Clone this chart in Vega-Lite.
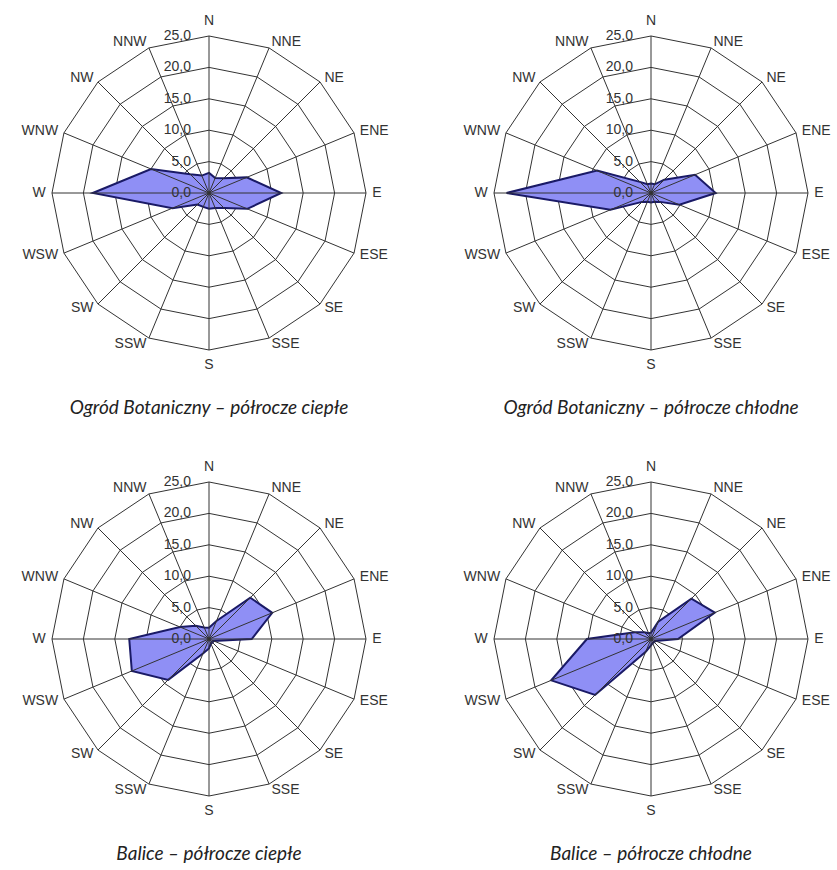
{
  "$schema": "https://vega.github.io/schema/vega-lite/v6.json",
  "padding": {"left": 21, "top": 13, "right": 0, "bottom": 0},
  "background": "white",
  "data": {"values": [
    {"panel": "Ogród Botaniczny – półrocze ciepłe", "dir": "N", "value": 3.2},
    {"panel": "Ogród Botaniczny – półrocze ciepłe", "dir": "NNE", "value": 2.6},
    {"panel": "Ogród Botaniczny – półrocze ciepłe", "dir": "NE", "value": 3.3},
    {"panel": "Ogród Botaniczny – półrocze ciepłe", "dir": "ENE", "value": 6.5},
    {"panel": "Ogród Botaniczny – półrocze ciepłe", "dir": "E", "value": 11.5},
    {"panel": "Ogród Botaniczny – półrocze ciepłe", "dir": "ESE", "value": 6.6},
    {"panel": "Ogród Botaniczny – półrocze ciepłe", "dir": "SE", "value": 3.4},
    {"panel": "Ogród Botaniczny – półrocze ciepłe", "dir": "SSE", "value": 2.6},
    {"panel": "Ogród Botaniczny – półrocze ciepłe", "dir": "S", "value": 2.5},
    {"panel": "Ogród Botaniczny – półrocze ciepłe", "dir": "SSW", "value": 2.4},
    {"panel": "Ogród Botaniczny – półrocze ciepłe", "dir": "SW", "value": 2.6},
    {"panel": "Ogród Botaniczny – półrocze ciepłe", "dir": "WSW", "value": 6.3},
    {"panel": "Ogród Botaniczny – półrocze ciepłe", "dir": "W", "value": 18.5},
    {"panel": "Ogród Botaniczny – półrocze ciepłe", "dir": "WNW", "value": 10.0},
    {"panel": "Ogród Botaniczny – półrocze ciepłe", "dir": "NW", "value": 4.2},
    {"panel": "Ogród Botaniczny – półrocze ciepłe", "dir": "NNW", "value": 3.0},
    {"panel": "Ogród Botaniczny – półrocze chłodne", "dir": "N", "value": 1.5},
    {"panel": "Ogród Botaniczny – półrocze chłodne", "dir": "NNE", "value": 1.5},
    {"panel": "Ogród Botaniczny – półrocze chłodne", "dir": "NE", "value": 3.0},
    {"panel": "Ogród Botaniczny – półrocze chłodne", "dir": "ENE", "value": 7.6},
    {"panel": "Ogród Botaniczny – półrocze chłodne", "dir": "E", "value": 10.3},
    {"panel": "Ogród Botaniczny – półrocze chłodne", "dir": "ESE", "value": 4.9},
    {"panel": "Ogród Botaniczny – półrocze chłodne", "dir": "SE", "value": 2.0},
    {"panel": "Ogród Botaniczny – półrocze chłodne", "dir": "SSE", "value": 1.5},
    {"panel": "Ogród Botaniczny – półrocze chłodne", "dir": "S", "value": 1.5},
    {"panel": "Ogród Botaniczny – półrocze chłodne", "dir": "SSW", "value": 1.5},
    {"panel": "Ogród Botaniczny – półrocze chłodne", "dir": "SW", "value": 2.0},
    {"panel": "Ogród Botaniczny – półrocze chłodne", "dir": "WSW", "value": 7.0},
    {"panel": "Ogród Botaniczny – półrocze chłodne", "dir": "W", "value": 23.0},
    {"panel": "Ogród Botaniczny – półrocze chłodne", "dir": "WNW", "value": 9.3},
    {"panel": "Ogród Botaniczny – półrocze chłodne", "dir": "NW", "value": 2.5},
    {"panel": "Ogród Botaniczny – półrocze chłodne", "dir": "NNW", "value": 1.5},
    {"panel": "Balice – półrocze ciepłe", "dir": "N", "value": 1.8},
    {"panel": "Balice – półrocze ciepłe", "dir": "NNE", "value": 3.1},
    {"panel": "Balice – półrocze ciepłe", "dir": "NE", "value": 9.3},
    {"panel": "Balice – półrocze ciepłe", "dir": "ENE", "value": 10.9},
    {"panel": "Balice – półrocze ciepłe", "dir": "E", "value": 6.8},
    {"panel": "Balice – półrocze ciepłe", "dir": "ESE", "value": 0.8},
    {"panel": "Balice – półrocze ciepłe", "dir": "SE", "value": 0.8},
    {"panel": "Balice – półrocze ciepłe", "dir": "SSE", "value": 0.8},
    {"panel": "Balice – półrocze ciepłe", "dir": "S", "value": 1.5},
    {"panel": "Balice – półrocze ciepłe", "dir": "SSW", "value": 2.5},
    {"panel": "Balice – półrocze ciepłe", "dir": "SW", "value": 9.2},
    {"panel": "Balice – półrocze ciepłe", "dir": "WSW", "value": 13.3},
    {"panel": "Balice – półrocze ciepłe", "dir": "W", "value": 12.7},
    {"panel": "Balice – półrocze ciepłe", "dir": "WNW", "value": 5.0},
    {"panel": "Balice – półrocze ciepłe", "dir": "NW", "value": 3.0},
    {"panel": "Balice – półrocze ciepłe", "dir": "NNW", "value": 2.0},
    {"panel": "Balice – półrocze chłodne", "dir": "N", "value": 1.0},
    {"panel": "Balice – półrocze chłodne", "dir": "NNE", "value": 3.0},
    {"panel": "Balice – półrocze chłodne", "dir": "NE", "value": 9.1},
    {"panel": "Balice – półrocze chłodne", "dir": "ENE", "value": 11.0},
    {"panel": "Balice – półrocze chłodne", "dir": "E", "value": 4.3},
    {"panel": "Balice – półrocze chłodne", "dir": "ESE", "value": 0.8},
    {"panel": "Balice – półrocze chłodne", "dir": "SE", "value": 0.7},
    {"panel": "Balice – półrocze chłodne", "dir": "SSE", "value": 0.7},
    {"panel": "Balice – półrocze chłodne", "dir": "S", "value": 1.0},
    {"panel": "Balice – półrocze chłodne", "dir": "SSW", "value": 2.2},
    {"panel": "Balice – półrocze chłodne", "dir": "SW", "value": 12.6},
    {"panel": "Balice – półrocze chłodne", "dir": "WSW", "value": 17.2},
    {"panel": "Balice – półrocze chłodne", "dir": "W", "value": 10.2},
    {"panel": "Balice – półrocze chłodne", "dir": "WNW", "value": 2.8},
    {"panel": "Balice – półrocze chłodne", "dir": "NW", "value": 1.5},
    {"panel": "Balice – półrocze chłodne", "dir": "NNW", "value": 1.0}
  ]},
  "transform": [
    {"calculate": "indexof(['N','NNE','NE','ENE','E','ESE','SE','SSE','S','SSW','SW','WSW','W','WNW','NW','NNW'], datum.dir)", "as": "idx"},
    {"calculate": "datum.idx * PI / 8", "as": "theta"},
    {"calculate": "datum.value * sin(datum.theta)", "as": "px"},
    {"calculate": "datum.value * cos(datum.theta)", "as": "py"}
  ],
  "facet": {
    "field": "panel",
    "type": "nominal",
    "title": null,
    "sort": ["Ogród Botaniczny – półrocze ciepłe", "Ogród Botaniczny – półrocze chłodne", "Balice – półrocze ciepłe", "Balice – półrocze chłodne"],
    "header": {"labelOrient": "bottom", "labelPadding": 26, "labelFont": "Lato", "labelFontStyle": "italic", "labelFontSize": 19, "labelColor": "#222222"}
  },
  "columns": 2,
  "spacing": {"row": 41, "column": 71},
  "spec": {
    "width": 366,
    "height": 360,
    "layer": [
      {
        "transform": [
          {"calculate": "5", "as": "r05"},
          {"calculate": "10", "as": "r10"},
          {"calculate": "15", "as": "r15"},
          {"calculate": "20", "as": "r20"},
          {"calculate": "25", "as": "r25"},
          {"fold": ["r05", "r10", "r15", "r20", "r25"], "as": ["rk", "ring"]},
          {"calculate": "datum.ring * sin(datum.theta)", "as": "gx"},
          {"calculate": "datum.ring * cos(datum.theta)", "as": "gy"}
        ],
        "mark": {"type": "line", "interpolate": "linear-closed", "stroke": "#333333", "strokeWidth": 1},
        "encoding": {
          "x": {"field": "gx", "type": "quantitative", "scale": {"domain": [-29.14, 29.14], "nice": false, "zero": false}, "axis": null},
          "y": {"field": "gy", "type": "quantitative", "scale": {"domain": [-28.66, 28.66], "nice": false, "zero": false}, "axis": null},
          "detail": {"field": "rk"},
          "order": {"field": "idx", "type": "quantitative"}
        }
      },
      {
        "mark": {"type": "line", "interpolate": "linear-closed", "fill": "#8F8FF5", "stroke": "#1a1a66", "strokeWidth": 2},
        "encoding": {
          "x": {"field": "px", "type": "quantitative"},
          "y": {"field": "py", "type": "quantitative"},
          "order": {"field": "idx", "type": "quantitative"}
        }
      },
      {
        "transform": [
          {"calculate": "25 * sin(datum.theta)", "as": "sx"},
          {"calculate": "25 * cos(datum.theta)", "as": "sy"}
        ],
        "mark": {"type": "rule", "stroke": "#333333", "strokeWidth": 1},
        "encoding": {
          "x": {"field": "sx", "type": "quantitative"},
          "y": {"field": "sy", "type": "quantitative"},
          "x2": {"datum": 0},
          "y2": {"datum": 0}
        }
      },
      {
        "transform": [
          {"filter": "datum.idx == 0"},
          {"calculate": "0", "as": "t00"},
          {"calculate": "5", "as": "t05"},
          {"calculate": "10", "as": "t10"},
          {"calculate": "15", "as": "t15"},
          {"calculate": "20", "as": "t20"},
          {"calculate": "25", "as": "t25"},
          {"fold": ["t00", "t05", "t10", "t15", "t20", "t25"], "as": ["tk", "tick"]},
          {"calculate": "replace(format(datum.tick, '.1f'), '.', ',')", "as": "tlab"}
        ],
        "mark": {"type": "text", "align": "right", "baseline": "middle", "dx": -18, "font": "Liberation Sans", "fontSize": 14, "fill": "#333333"},
        "encoding": {
          "x": {"datum": 0},
          "y": {"field": "tick", "type": "quantitative"},
          "text": {"field": "tlab"}
        }
      },
      {
        "transform": [
          {"filter": "datum.idx >= 1 && datum.idx <= 7"},
          {"calculate": "26 * sin(datum.theta)", "as": "lx"},
          {"calculate": "26 * cos(datum.theta)", "as": "ly"}
        ],
        "mark": {"type": "text", "align": "left", "baseline": "middle", "font": "Liberation Sans", "fontSize": 14, "fill": "#333333"},
        "encoding": {
          "x": {"field": "lx", "type": "quantitative"},
          "y": {"field": "ly", "type": "quantitative"},
          "text": {"field": "dir"}
        }
      },
      {
        "transform": [
          {"filter": "datum.idx >= 9"},
          {"calculate": "26 * sin(datum.theta)", "as": "lx"},
          {"calculate": "26 * cos(datum.theta)", "as": "ly"}
        ],
        "mark": {"type": "text", "align": "right", "baseline": "middle", "font": "Liberation Sans", "fontSize": 14, "fill": "#333333"},
        "encoding": {
          "x": {"field": "lx", "type": "quantitative"},
          "y": {"field": "ly", "type": "quantitative"},
          "text": {"field": "dir"}
        }
      },
      {
        "transform": [
          {"filter": "datum.idx == 0 || datum.idx == 8"},
          {"calculate": "27.4 * sin(datum.theta)", "as": "lx"},
          {"calculate": "27.4 * cos(datum.theta)", "as": "ly"}
        ],
        "mark": {"type": "text", "align": "center", "baseline": "middle", "font": "Liberation Sans", "fontSize": 14, "fill": "#333333"},
        "encoding": {
          "x": {"field": "lx", "type": "quantitative"},
          "y": {"field": "ly", "type": "quantitative"},
          "text": {"field": "dir"}
        }
      }
    ]
  },
  "config": {"view": {"stroke": null}}
}
